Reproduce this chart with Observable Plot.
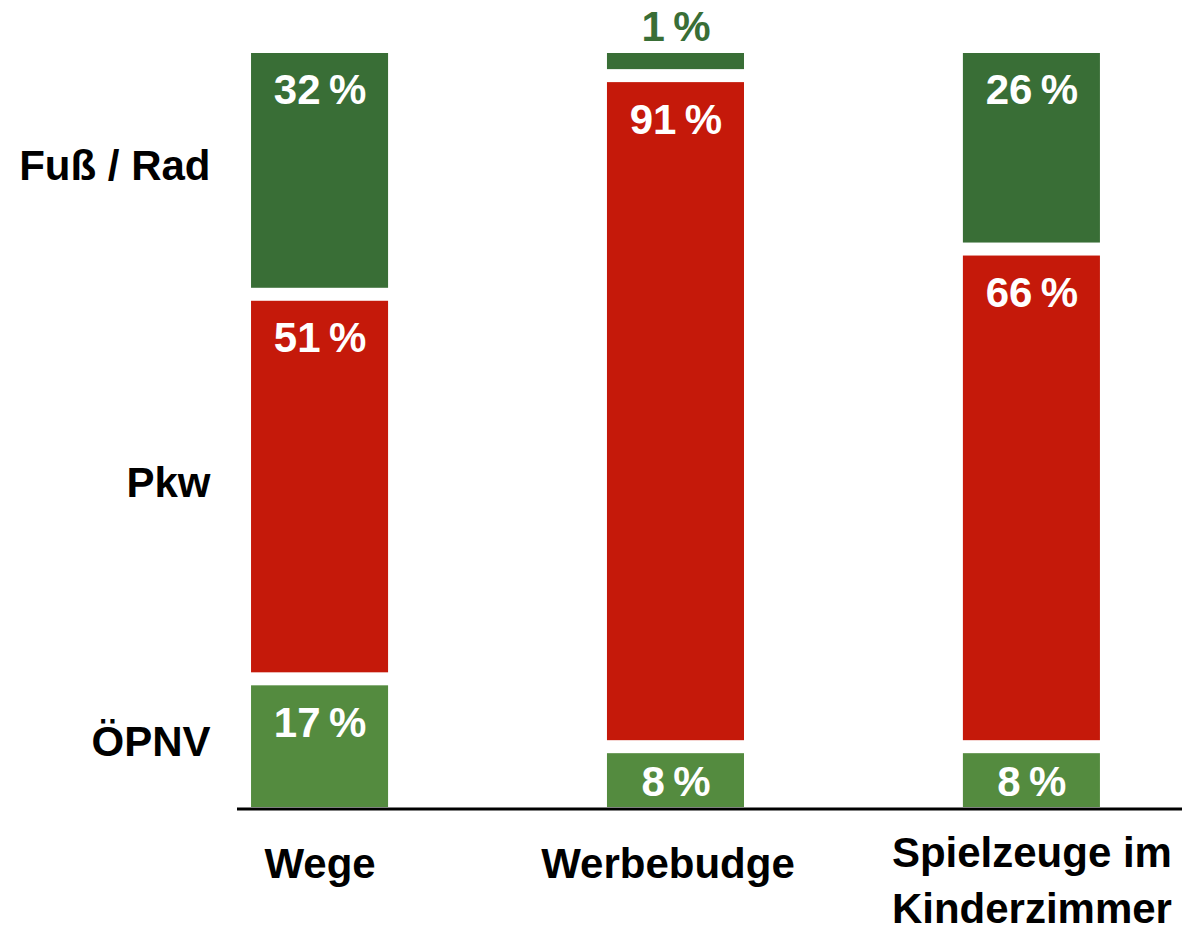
<!DOCTYPE html>
<html>
<head>
<meta charset="utf-8">
<script src="https://cdn.jsdelivr.net/npm/d3@7"></script>
<script src="https://cdn.jsdelivr.net/npm/@observablehq/plot@0.6"></script>
<style>
  html, body { margin: 0; padding: 0; background: #ffffff; }
  #chart svg { display: block; overflow: visible; }
</style>
</head>
<body>
<div id="chart"></div>
<script>
// ---- data ----
const categories = ["Wege", "Werbebudge", "Spielzeuge im\nKinderzimmer"];
const modes = ["ÖPNV", "Pkw", "Fuß / Rad"];          // stacked bottom → top
const modeColors = ["#548b3f", "#c5190a", "#396e36"];

// labelled shares (%)
const shareOPNV    = [17, 8, 8];
const sharePkw     = [51, 91, 66];
const shareFussRad = [32, 1, 26];

// segment lengths as drawn in the picture (the 1 % segment is drawn enlarged)
const barOPNV    = [17, 8, 8];
const barPkw     = [51, 89, 66];
const barFussRad = [32, 3, 26];

// ---- build stacked table ----
const shares = [shareOPNV, sharePkw, shareFussRad];
const lengths = [barOPNV, barPkw, barFussRad];
const rows = [];
categories.forEach((cat, i) => {
  let base = 0;
  modes.forEach((mode, j) => {
    const len = lengths[j][i];
    rows.push({
      cat, mode, value: shares[j][i], len,
      y1: base, y2: base + len,
      pos: j === 0 ? "bottom" : j === modes.length - 1 ? "top" : "middle"
    });
    base += len;
  });
});

const FONT = "'Liberation Sans', Arial, Helvetica, sans-serif";
const FS = 42;
const GAP = 6.5;
const insets = {
  bottom: {insetTop: GAP, insetBottom: 0},
  middle: {insetTop: GAP, insetBottom: GAP},
  top:    {insetTop: 0, insetBottom: GAP}
};
const txt = {fontSize: FS, fontWeight: "bold", fontFamily: FONT};
const pct = d => `${d.value}\u2009%`;

const marks = [];
for (const pos of ["bottom", "middle", "top"]) {
  const seg = rows.filter(d => d.pos === pos);
  const {insetTop, insetBottom} = insets[pos];
  marks.push(Plot.barY(seg, {x: "cat", y1: "y1", y2: "y2", fill: "mode", insetTop, insetBottom}));
  // labels inside, near top of segment
  marks.push(Plot.text(seg.filter(d => d.len >= 10), {
    x: "cat", y: "y2", text: pct, dy: 37.5 + insetTop, fill: "white", ...txt
  }));
  // labels centred in small segments
  marks.push(Plot.text(seg.filter(d => d.len >= 5 && d.len < 10), {
    x: "cat", y: d => (d.y1 + d.y2) / 2, text: pct,
    dy: (insetTop - insetBottom) / 2 + 1.5, fill: "white", ...txt
  }));
  // labels above tiny segments
  marks.push(Plot.text(seg.filter(d => d.len < 5), {
    x: "cat", y: "y2", text: pct, dy: -26, fill: "mode", ...txt
  }));
  // mode labels at left, aligned with the first bar's segments
  marks.push(Plot.text(seg.filter(d => d.cat === categories[0]), {
    y: d => (d.y1 + d.y2) / 2, text: "mode", frameAnchor: "left", textAnchor: "end",
    dx: -27, dy: (insetTop - insetBottom) / 2 - 4, fill: "black", ...txt
  }));
}

// baseline
marks.push(Plot.ruleY([0], {stroke: "black", strokeWidth: 3, dy: 1.5}));

// x axis labels
const axisStyle = {tickSize: 0, ...txt, fill: "black", lineHeight: 1.33, label: null};
marks.push(Plot.axisX([categories[0]], {...axisStyle, tickPadding: 31}));
marks.push(Plot.axisX([categories[1]], {...axisStyle, tickPadding: 31, dx: -8}));
marks.push(Plot.axisX([categories[2]], {...axisStyle, tickPadding: 20}));

const chart = Plot.plot({
  width: 1182,
  height: 933,
  marginTop: 53,
  marginBottom: 126,
  marginLeft: 237,
  marginRight: 0,
  style: {fontFamily: FONT, background: "white", color: "black"},
  x: {domain: categories, paddingInner: 0.615, paddingOuter: 0.135, align: 0.146, round: false, label: null},
  y: {domain: [0, 100], axis: null},
  color: {domain: modes, range: modeColors},
  marks
});
document.getElementById("chart").append(chart);
</script>
</body>
</html>
